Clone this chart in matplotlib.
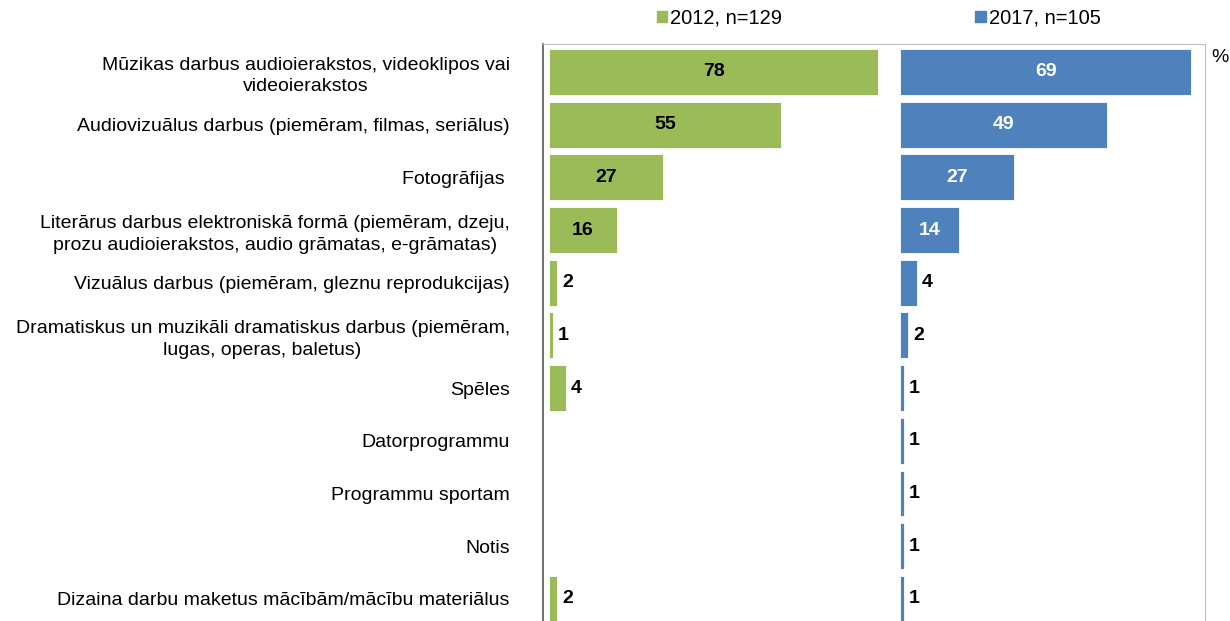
import matplotlib.pyplot as plt
from matplotlib.patches import Patch

plt.rcParams['font.family'] = ['Liberation Sans', 'DejaVu Sans']

categories = [
    "Mūzikas darbus audioierakstos, videoklipos vai\nvideoierakstos",
    "Audiovizuālus darbus (piemēram, filmas, seriālus)",
    "Fotogrāfijas ",
    "Literārus darbus elektroniskā formā (piemēram, dzeju,\nprozu audioierakstos, audio grāmatas, e-grāmatas)",
    "Vizuālus darbus (piemēram, gleznu reprodukcijas)",
    "Dramatiskus un muzikāli dramatiskus darbus (piemēram,\nlugas, operas, baletus)",
    "Spēles",
    "Datorprogrammu",
    "Programmu sportam",
    "Notis",
    "Dizaina darbu maketus mācībām/mācību materiālus",
]
values_2012 = [78, 55, 27, 16, 2, 1, 4, None, None, None, 2]
values_2017 = [69, 49, 27, 14, 4, 2, 1, 1, 1, 1, 1]
series_labels = ["2012, n=129", "2017, n=105"]

green = "#9BBB59"
blue = "#4F81BD"
offset = 83.1  # where the 2017 panel starts on the shared axis

fig = plt.figure(figsize=(12.3, 6.21), dpi=100)
ax = fig.add_axes([543 / 1230, 0.0, 662 / 1230, 1 - 44 / 621])

ys = list(range(len(categories)))


def draw(vals, start, color, inside_color):
    for y, v in zip(ys, vals):
        if v is None:
            continue
        ax.barh(y, v, left=start, height=0.87, color=color,
                edgecolor="white", linewidth=0.6)
        if v >= 10:
            ax.text(start + v / 2, y, str(v), ha="center", va="center",
                    fontsize=14, fontweight="bold", color=inside_color)
        else:
            ax.annotate(str(v), (start + v, y), xytext=(3.5, 0),
                        textcoords="offset points", ha="left", va="center",
                        fontsize=14, fontweight="bold", color="black")


draw(values_2012, 0, green, "black")
draw(values_2017, offset, blue, "white")

ax.set_xlim(-1.42, 155.3)
ax.set_ylim(10.42, -0.53)
ax.set_yticks(ys)
ax.set_yticklabels(categories, fontsize=14, multialignment="center",
                   linespacing=1.35)
ax.tick_params(axis="y", length=0, pad=24)
ax.set_xticks([])

for side in ["top", "right"]:
    ax.spines[side].set_color("#BFBFBF")
ax.spines["left"].set_color("#595959")
ax.spines["left"].set_linewidth(1.2)
ax.spines["bottom"].set_visible(False)

fig.text(1211 / 1230, 1 - 57 / 621, "%", fontsize=14, va="center", ha="left")

handles = [Patch(color=green), Patch(color=blue)]
fig.legend(handles, series_labels, loc="center left",
           bbox_to_anchor=(649 / 1230, 1 - 18 / 621), ncol=2, frameon=False,
           fontsize=14.5, handlelength=0.5, handleheight=0.5,
           handletextpad=0.15, columnspacing=9.6, borderaxespad=0)

fig.savefig("out.png", dpi=100)
